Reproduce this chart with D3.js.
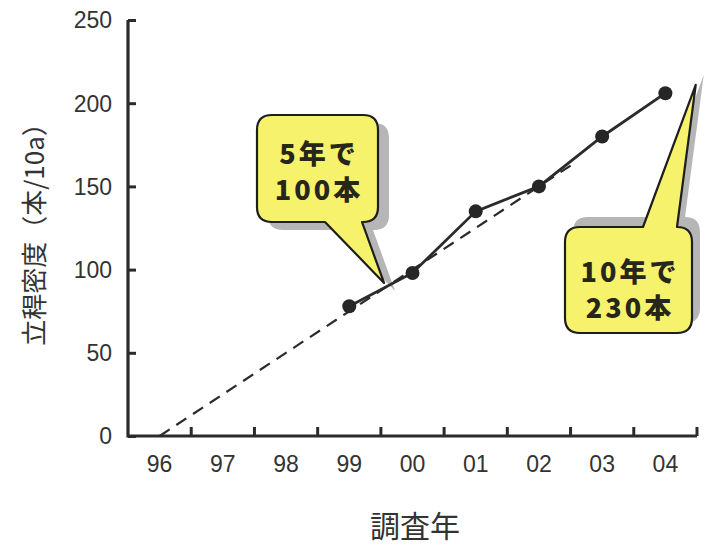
<!DOCTYPE html>
<html>
<head>
<meta charset="utf-8">
<script src="https://cdn.jsdelivr.net/npm/d3@7"></script>
<style>
  html, body { margin: 0; padding: 0; background: #fff; }
  svg { display: block; }
  .tick text { font-family: "Liberation Sans", Arial, sans-serif; fill: #333; }
</style>
</head>
<body>
<svg id="chart" width="711" height="549"></svg>
<script>
// Survey years (band categories) and measured culm density (stems / 10a)
const years = ["96", "97", "98", "99", "00", "01", "02", "03", "04"];
const obsYears = ["99", "00", "01", "02", "03", "04"];
const density = [78, 98, 135, 150, 180, 206];
// Trend line: zero in 96, 100 stems after five years (index = years since 96)
const trendIdx = [0, 6.55];
const trendVal = [0, 163.75];
const yTicks = [0, 50, 100, 150, 200, 250];

const W = 711, H = 549;
const margin = { left: 128, right: 14, top: 20, bottom: 113 };
const svg = d3.select("#chart");

const x = d3.scaleBand().domain(years).range([margin.left, W - margin.right]).padding(0);
const bw = x.bandwidth();
// continuous position by year index, aligned to band centres
const xi = d3.scaleLinear().domain([0, years.length - 1])
  .range([x(years[0]) + bw / 2, x(years[years.length - 1]) + bw / 2]);
const y = d3.scaleLinear().domain([0, 250]).range([H - margin.bottom, margin.top]);

const ink = "#2b2b2b";

// ---- callout bubbles (drawn first, data line passes over the tips) ----
function bubble(b, tail) {
  const { x0, y0, x1, y1, r } = b;
  const p = d3.path();
  if (tail.side === "bottom") {
    p.moveTo(x0 + r, y0);
    p.lineTo(x1 - r, y0); p.quadraticCurveTo(x1, y0, x1, y0 + r);
    p.lineTo(x1, y1 - r); p.quadraticCurveTo(x1, y1, x1 - r, y1);
    p.lineTo(tail.b1, y1); p.lineTo(tail.tx, tail.ty); p.lineTo(tail.b0, y1);
    p.lineTo(x0 + r, y1); p.quadraticCurveTo(x0, y1, x0, y1 - r);
    p.lineTo(x0, y0 + r); p.quadraticCurveTo(x0, y0, x0 + r, y0);
  } else {
    p.moveTo(x0 + r, y0);
    p.lineTo(tail.b0, y0); p.lineTo(tail.tx, tail.ty); p.lineTo(tail.b1, y0);
    p.lineTo(x1 - r, y0); p.quadraticCurveTo(x1, y0, x1, y0 + r);
    p.lineTo(x1, y1 - r); p.quadraticCurveTo(x1, y1, x1 - r, y1);
    p.lineTo(x0 + r, y1); p.quadraticCurveTo(x0, y1, x0, y1 - r);
    p.lineTo(x0, y0 + r); p.quadraticCurveTo(x0, y0, x0 + r, y0);
  }
  p.closePath();
  return p.toString();
}

const callouts = [
  {
    box: { x0: 257, y0: 115, x1: 378, y1: 222, r: 15 },
    tail: { side: "bottom", b0: 325, b1: 362, tx: xi(3.55), ty: y(92) },
    shadow: [11, 8],
    lines: ["5年で", "100本"], cx: 319, ly: [152, 188]
  },
  {
    box: { x0: 565, y0: 227, x1: 692, y1: 333, r: 15 },
    tail: { side: "top", b0: 643, b1: 677, tx: xi(8.48), ty: y(211) },
    shadow: [8, -10],
    lines: ["10年で", "230本"], cx: 630, ly: [270, 306]
  }
];

const gC = svg.append("g");
callouts.forEach(c => {
  const d = bubble(c.box, c.tail);
  gC.append("path").attr("d", d)
    .attr("transform", `translate(${c.shadow[0]},${c.shadow[1]})`)
    .attr("fill", "#b6b6b6");
  gC.append("path").attr("d", d)
    .attr("fill", "#f6f26c").attr("stroke", "#1e1e1e")
    .attr("stroke-width", 2.2).attr("stroke-linejoin", "round");
  c.lines.forEach((t, i) => {
    gC.append("text").attr("x", c.cx).attr("y", c.ly[i])
      .attr("text-anchor", "middle").attr("dominant-baseline", "central")
      .attr("font-family", "'Noto Sans CJK JP', 'Noto Sans', sans-serif")
      .attr("font-weight", 900).attr("font-size", 27)
      .attr("letter-spacing", 3)
      .attr("fill", "#26261a").text(t);
  });
});

// ---- axes ----
const yAxis = d3.axisLeft(y).tickValues(yTicks).tickSize(-8).tickPadding(16);
const gy = svg.append("g").attr("transform", `translate(${margin.left},0)`).call(yAxis);
gy.select(".domain").remove();
gy.selectAll(".tick line").attr("stroke", ink).attr("stroke-width", 3);
gy.selectAll(".tick text").attr("font-size", 23).attr("dy", "0.34em");

const xAxis = d3.axisBottom(x).tickSize(0).tickPadding(20);
const gx = svg.append("g").attr("transform", `translate(0,${y(0)})`).call(xAxis);
gx.select(".domain").remove();
gx.selectAll(".tick text").attr("font-size", 23).attr("dy", "0.71em");

// tick marks at band boundaries, pointing up
svg.append("g").selectAll("line").data(years).join("line")
  .attr("x1", d => x(d) + bw).attr("x2", d => x(d) + bw)
  .attr("y1", y(0)).attr("y2", y(0) - 9)
  .attr("stroke", ink).attr("stroke-width", 3);

// axis lines
svg.append("path")
  .attr("d", `M${margin.left},${y(250)}V${y(0)}H${x.range()[1]}`)
  .attr("fill", "none").attr("stroke", ink).attr("stroke-width", 3.2)
  .attr("stroke-linejoin", "miter");

// axis titles
svg.append("text")
  .attr("transform", `translate(32,${(y(0) + y(250)) / 2}) rotate(-90)`)
  .attr("text-anchor", "middle").attr("dominant-baseline", "central")
  .attr("font-family", "'Noto Sans CJK JP', sans-serif").attr("font-size", 26)
  .attr("fill", "#333").text("立稈密度（本/10a）");
svg.append("text")
  .attr("x", 415).attr("y", 524)
  .attr("text-anchor", "middle").attr("dominant-baseline", "central")
  .attr("font-family", "'Noto Sans CJK JP', sans-serif").attr("font-size", 30)
  .attr("fill", "#333").text("調査年");

// ---- trend (dashed) ----
svg.append("line")
  .attr("x1", xi(trendIdx[0])).attr("y1", y(trendVal[0]))
  .attr("x2", xi(trendIdx[1])).attr("y2", y(trendVal[1]))
  .attr("stroke", ink).attr("stroke-width", 2.2).attr("stroke-dasharray", "12,8");

// ---- observed series ----
const pts = obsYears.map((yr, i) => ({ yr, v: density[i] }));
svg.append("path").datum(pts)
  .attr("d", d3.line().x(d => x(d.yr) + bw / 2).y(d => y(d.v)))
  .attr("fill", "none").attr("stroke", ink).attr("stroke-width", 2.8);
svg.append("g").selectAll("circle").data(pts).join("circle")
  .attr("cx", d => x(d.yr) + bw / 2).attr("cy", d => y(d.v))
  .attr("r", 7).attr("fill", "#262626");
</script>
</body>
</html>
